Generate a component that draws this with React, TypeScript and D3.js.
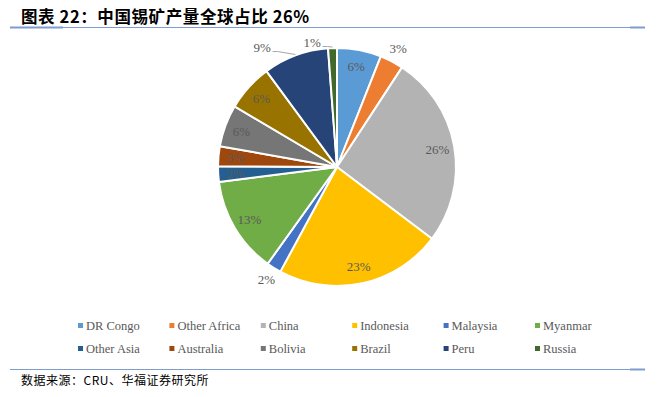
import React from "react";
import * as d3 from "d3";

// ---- data ----
const categories = [
  "DR Congo", "Other Africa", "China", "Indonesia", "Malaysia", "Myanmar",
  "Other Asia", "Australia", "Bolivia", "Brazil", "Peru", "Russia",
];
const shares = [6.0, 3.2, 26.1, 22.6, 2.0, 13.1, 2.1, 2.7, 5.7, 6.4, 8.9, 1.2];
const colors = [
  "#5B9BD5", "#ED7D31", "#B3B3B3", "#FFC000", "#4472C4", "#70AD47",
  "#255E91", "#9E480E", "#767676", "#997300", "#264478", "#43682B",
];
// label placement: "in" (inside), "out" (outside), "lead" (outside with leader line)
const labelModes = ["in", "out", "in", "in", "out", "in", "in", "in", "in", "in", "lead", "lead"];
const titleText = "图表 22：中国锡矿产量全球占比 26%";
const sourceText = "数据来源：CRU、华福证券研究所";

// ---- layout ----
const W = 666;
const H = 397;
const cx = 337;
const cy = 167;
const R = 119;
const inR = 102;
const outR = 133;
const leadOffsets: Record<number, { dAng: number; r: number }> = {
  10: { dAng: -0.205, r: 141 },
  11: { dAng: -0.16, r: 127 },
};
const serif = "'Liberation Serif', 'Times New Roman', serif";
const cjk = "'Noto Sans CJK SC', 'Noto Sans', sans-serif";
const lineColor = "#7F9CCF";

export default function App() {
  const pie = d3
    .pie<number>()
    .sort(null)
    .value((d) => d);
  const arcs = pie(shares);
  const arcGen = d3.arc<d3.PieArcDatum<number>>().innerRadius(0).outerRadius(R);

  const polar = (ang: number, r: number): [number, number] => [
    cx + r * Math.sin(ang),
    cy - r * Math.cos(ang),
  ];

  const legendX = d3.scaleLinear().domain([0, 1]).range([78, 78 + 91.4]);
  const legendY = [325.5, 348.5];

  return (
    <svg
      width={W}
      height={H}
      style={{ position: "absolute", left: 0, top: 0, background: "#fff" }}
    >
      <rect x={0} y={0} width={W} height={H} fill="#fff" />
      {/* title */}
      <text
        x={21}
        y={23}
        fontFamily={cjk}
        fontWeight="bold"
        fontSize={16.5}
        letterSpacing={0.6}
        fill="#000"
      >
        {titleText}
      </text>
      <line x1={10} x2={645} y1={27.5} y2={27.5} stroke={lineColor} strokeWidth={1} />
      <line x1={10} x2={63} y1={27.5} y2={27.5} stroke={lineColor} strokeWidth={2} />
      <line x1={630} x2={645} y1={27.5} y2={27.5} stroke={lineColor} strokeWidth={2} />

      {/* pie */}
      <g transform={`translate(${cx},${cy})`}>
        {arcs.map((a, i) => (
          <path
            key={categories[i]}
            d={arcGen(a) || ""}
            fill={colors[i]}
            stroke="#fff"
            strokeWidth={2}
            strokeLinejoin="round"
          />
        ))}
      </g>
      {arcs.map((a, i) => {
        const mid = (a.startAngle + a.endAngle) / 2;
        const label = `${Math.round(a.value)}%`;
        const mode = labelModes[i];
        if (mode === "lead") {
          const off = leadOffsets[i];
          const [lx, ly] = polar(mid + off.dAng, off.r);
          const [ax, ay] = polar(mid, R + 1);
          const tw = label.length === 2 ? 17 : 23;
          const sx = lx + tw / 2 + 2;
          return (
            <g key={"l" + i}>
              <polyline
                points={`${sx},${ly + 4} ${sx + 5},${ly + 4} ${ax},${ay}`}
                fill="none"
                stroke="#A6A6A6"
                strokeWidth={1}
              />
              <text
                x={lx}
                y={ly}
                textAnchor="middle"
                dominantBaseline="central"
                fontFamily={serif}
                fontSize={13}
                fill="#595959"
              >
                {label}
              </text>
            </g>
          );
        }
        const [lx, ly] = polar(mid, mode === "in" ? inR : outR);
        return (
          <text
            key={"l" + i}
            x={lx}
            y={ly}
            textAnchor="middle"
            dominantBaseline="central"
            fontFamily={serif}
            fontSize={13}
            fill="#595959"
          >
            {label}
          </text>
        );
      })}

      {/* legend */}
      {categories.map((c, i) => {
        const col = i % 6;
        const row = Math.floor(i / 6);
        const x = legendX(col);
        const y = legendY[row];
        return (
          <g key={"lg" + c}>
            <rect x={x} y={y - 2.5} width={5} height={5} fill={colors[i]} />
            <text
              x={x + 8}
              y={y}
              dominantBaseline="central"
              fontFamily={serif}
              fontSize={12.5}
              fill="#595959"
            >
              {c}
            </text>
          </g>
        );
      })}

      {/* footer */}
      <line x1={10} x2={645} y1={369.5} y2={369.5} stroke={lineColor} strokeWidth={1} />
      <line x1={630} x2={645} y1={369.5} y2={369.5} stroke={lineColor} strokeWidth={2} />
      <text x={21} y={385} fontFamily={cjk} fontSize={12} letterSpacing={0.5} fill="#000">
        {sourceText}
      </text>
    </svg>
  );
}
